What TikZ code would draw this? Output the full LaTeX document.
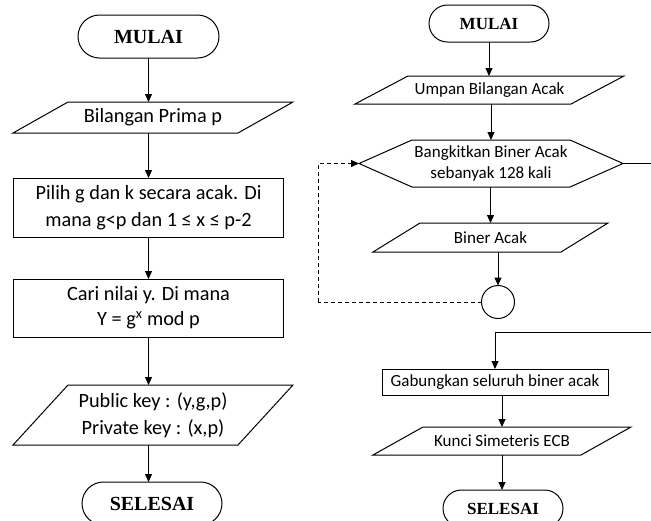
\documentclass[tikz,border=0pt]{standalone}
\usepackage{fontspec}
\setmainfont{Carlito}
\newfontfamily\termfont{Liberation Serif}
\usetikzlibrary{arrows.meta,shapes.misc}

% outlines for data and preparation boxes
\newcommand{\iobox}[2]{\draw[outline] ([xshift=#2]#1.north west) -- (#1.north east) -- ([xshift=-#2]#1.south east) -- (#1.south west) -- cycle;}
\newcommand{\prepbox}[2]{\draw[outline] (#1.west) -- ([xshift=#2]#1.north west) -- ([xshift=-#2]#1.north east) -- (#1.east) -- ([xshift=-#2]#1.south east) -- ([xshift=#2]#1.south west) -- cycle;}

\tikzset{
  outline/.style={line width=1pt},
  arr/.style={outline, -{Triangle[length=8pt,width=7pt]}},
  loopline/.style={outline, dash pattern=on 4pt off 3pt},
  term/.style={draw, outline, rounded rectangle, inner sep=0pt, outer sep=0pt},
  procbox/.style={draw, outline, inner sep=0pt, outer sep=0pt, align=center},
  plainbox/.style={inner sep=0pt, outer sep=0pt, align=center},
  bigtext/.style={font=\fontsize{20.3}{27.5}\selectfont},
  smalltext/.style={font=\fontsize{17}{21}\selectfont},
}

\begin{document}
\begin{tikzpicture}[x=1pt,y=-1pt]
		\useasboundingbox (0,0) rectangle (651,520);
		\begin{scope}
		% left chart
		\node[term, minimum width=141pt, minimum height=43pt, font=\termfont\bfseries\fontsize{20}{24}\selectfont] (mulaiA) at (148.5,36.5) {MULAI};
		\node[plainbox, bigtext, minimum width=280pt, minimum height=31pt] (primaA) at (153,117.5) {Bilangan Prima p};
		\node[procbox, bigtext, minimum width=270pt, minimum height=59pt] (pilihA) at (148.5,207.5) {Pilih g dan k secara acak. Di\\mana g<p dan 1 ≤ x ≤ p-2};
		\node[procbox, font=\fontsize{20.3}{25}\selectfont, minimum width=270pt, minimum height=58pt] (cariA) at (148.5,308) {Cari nilai y. Di mana\\Y = g\textsuperscript{x} mod p};
		\node[plainbox, bigtext, minimum width=280pt, minimum height=60pt] (pubA) at (153,415) {Public key : (y,g,p)\\Private key : (x,p)};
		\node[term, minimum width=140pt, minimum height=43pt, font=\termfont\bfseries\fontsize{20}{24}\selectfont] (selesaiA) at (152,503.5) {SELESAI};
		\iobox{primaA}{55pt}
		\iobox{pubA}{55pt}
		\draw[arr] (mulaiA.south) -- (mulaiA.south |- primaA.north);
		\draw[arr] (pilihA.north |- primaA.south) -- (pilihA.north);
		\draw[arr] (pilihA.south) -- (cariA.north);
		\draw[arr] (cariA.south) -- (cariA.south |- pubA.north);
		\draw[arr] (cariA.south |- pubA.south) -- (cariA.south |- selesaiA.north);
		% right chart
		\node[term, minimum width=120pt, minimum height=37pt, font=\termfont\bfseries\fontsize{17}{20}\selectfont] (mulaiB) at (489,23.5) {MULAI};
		\node[plainbox, smalltext, minimum width=269pt, minimum height=28pt] (umpanB) at (489.5,90) {Umpan Bilangan Acak};
		\node[plainbox, smalltext, minimum width=264pt, minimum height=47pt] (bangkitB) at (491,163.5) {Bangkitkan Biner Acak\\sebanyak 128 kali};
		\node[plainbox, smalltext, minimum width=235pt, minimum height=29pt] (binerB) at (490.5,237.5) {Biner Acak};
		\node[draw, outline, circle, minimum size=33pt, inner sep=0pt, outer sep=0pt] (circB) at (498,302) {};
		\node[procbox, smalltext, minimum width=226pt, minimum height=26pt] (gabungB) at (495,382) {Gabungkan seluruh biner acak};
		\node[plainbox, smalltext, minimum width=258pt, minimum height=28pt] (kunciB) at (502,441) {Kunci Simeteris ECB};
		\node[term, minimum width=120pt, minimum height=37pt, font=\termfont\bfseries\fontsize{17}{20}\selectfont] (selesaiB) at (503,508.5) {SELESAI};
		\iobox{umpanB}{53pt}
		\prepbox{bangkitB}{53pt}
		\iobox{binerB}{47pt}
		\iobox{kunciB}{50pt}
		\coordinate (loopB) at (318,302);
		\coordinate (exitB) at (660,163.5);
		\coordinate (enterB) at (660,332);
		\draw[arr] (mulaiB.south) -- (mulaiB.south |- umpanB.north);
		\draw[arr] (bangkitB.north |- umpanB.south) -- (bangkitB.north);
		\draw[arr] (binerB.north |- bangkitB.south) -- (binerB.north);
		\draw[arr] (circB.north |- binerB.south) -- (circB.north);
		\draw[loopline] (circB.west) -- (loopB);
		\draw[loopline, -{Triangle[length=8pt,width=7pt]}] (loopB) |- (bangkitB.west);
		\draw[outline] (bangkitB.east) -- (exitB);
		\draw[arr] (enterB) -| (gabungB.north);
		\draw[arr] (kunciB.north |- gabungB.south) -- (kunciB.north);
		\draw[arr] (kunciB.south) -- (kunciB.south |- selesaiB.north);
		\end{scope}
\end{tikzpicture}
\end{document}
